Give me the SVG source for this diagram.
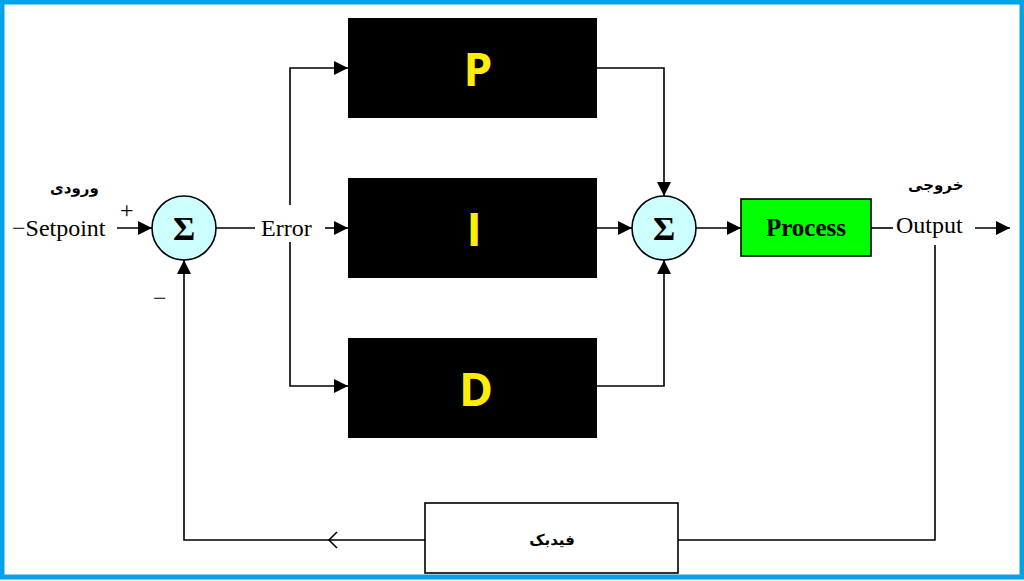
<svg xmlns="http://www.w3.org/2000/svg" width="1024" height="581" viewBox="0 0 1024 581">
<style>
.ln{fill:none;stroke:#000;stroke-width:1.6}
.t{font-family:"Liberation Serif",serif;font-size:24px}
.fa{font-family:"DejaVu Sans",sans-serif;font-weight:bold;font-size:15px}
.blk{fill:#000}
.L{font-family:"Open Sans","DejaVu Sans",sans-serif;font-weight:bold;font-size:46px;fill:#ffee00;text-anchor:middle}
.sum{fill:#ccffff;stroke:#000;stroke-width:1.6}
.sg{font-family:"Liberation Serif",serif;font-weight:bold;font-size:34px;text-anchor:middle}
</style>
<defs>
<marker id="a" viewBox="0 0 10 10" refX="10" refY="5" markerWidth="14" markerHeight="14" markerUnits="userSpaceOnUse" orient="auto"><path d="M0,0L10,5L0,10z"/></marker>
</defs>
<rect x="0" y="0" width="1024" height="581" fill="#fff"/>
<rect x="2" y="2" width="1020" height="575" fill="none" stroke="#00a2e8" stroke-width="5"/>
<g id="connectors">
<path class="ln" d="M117,228H152" marker-end="url(#a)"/>
<path class="ln" d="M216,228H255"/>
<path class="ln" d="M325,228H348" marker-end="url(#a)"/>
<path class="ln" d="M290,205V68H348" marker-end="url(#a)"/>
<path class="ln" d="M290,242V386H348" marker-end="url(#a)"/>
<path class="ln" d="M597,68H664V196" marker-end="url(#a)"/>
<path class="ln" d="M597,228H632" marker-end="url(#a)"/>
<path class="ln" d="M597,386H664V260" marker-end="url(#a)"/>
<path class="ln" d="M696,228H741" marker-end="url(#a)"/>
<path class="ln" d="M871,228H893"/>
<path class="ln" d="M975,228H1010" marker-end="url(#a)"/>
<path class="ln" d="M935,245V540H678"/>
<path class="ln" d="M425,540H184V260" marker-end="url(#a)"/>
<path class="ln" d="M337,532L329,540L337,548"/>
</g>
<g id="setpoint"><text class="t" x="12" y="236">−Setpoint</text><text class="fa" x="50" y="193">ورودی</text><text class="t" x="120" y="218">+</text><text class="t" x="153" y="306">−</text></g>
<g id="sum1"><circle class="sum" cx="184" cy="228" r="32"/><text class="sg" x="184" y="240">Σ</text></g>
<g id="error"><text class="t" x="261" y="236">Error</text></g>
<g id="P"><rect class="blk" x="348" y="18" width="249" height="100"/><text class="L" x="478" y="86">P</text></g>
<g id="I"><rect class="blk" x="348" y="178" width="249" height="100"/><text class="L" x="474" y="246">I</text></g>
<g id="D"><rect class="blk" x="348" y="338" width="249" height="100"/><text class="L" x="476" y="406">D</text></g>
<g id="sum2"><circle class="sum" cx="664" cy="228" r="32"/><text class="sg" x="664" y="240">Σ</text></g>
<g id="process"><rect x="741" y="199" width="130" height="57" fill="#00ff00" stroke="#000" stroke-width="1.6"/><text x="806" y="236" text-anchor="middle" style="font-family:'Liberation Serif',serif;font-weight:bold;font-size:25px">Process</text></g>
<g id="output"><text class="t" x="896" y="233">Output</text><text class="fa" x="908" y="190">خروجی</text></g>
<g id="feedback"><rect x="425" y="503" width="253" height="70" fill="#fff" stroke="#000" stroke-width="1.6"/><text class="fa" x="552" y="545" text-anchor="middle">فیدبک</text></g>
</svg>
